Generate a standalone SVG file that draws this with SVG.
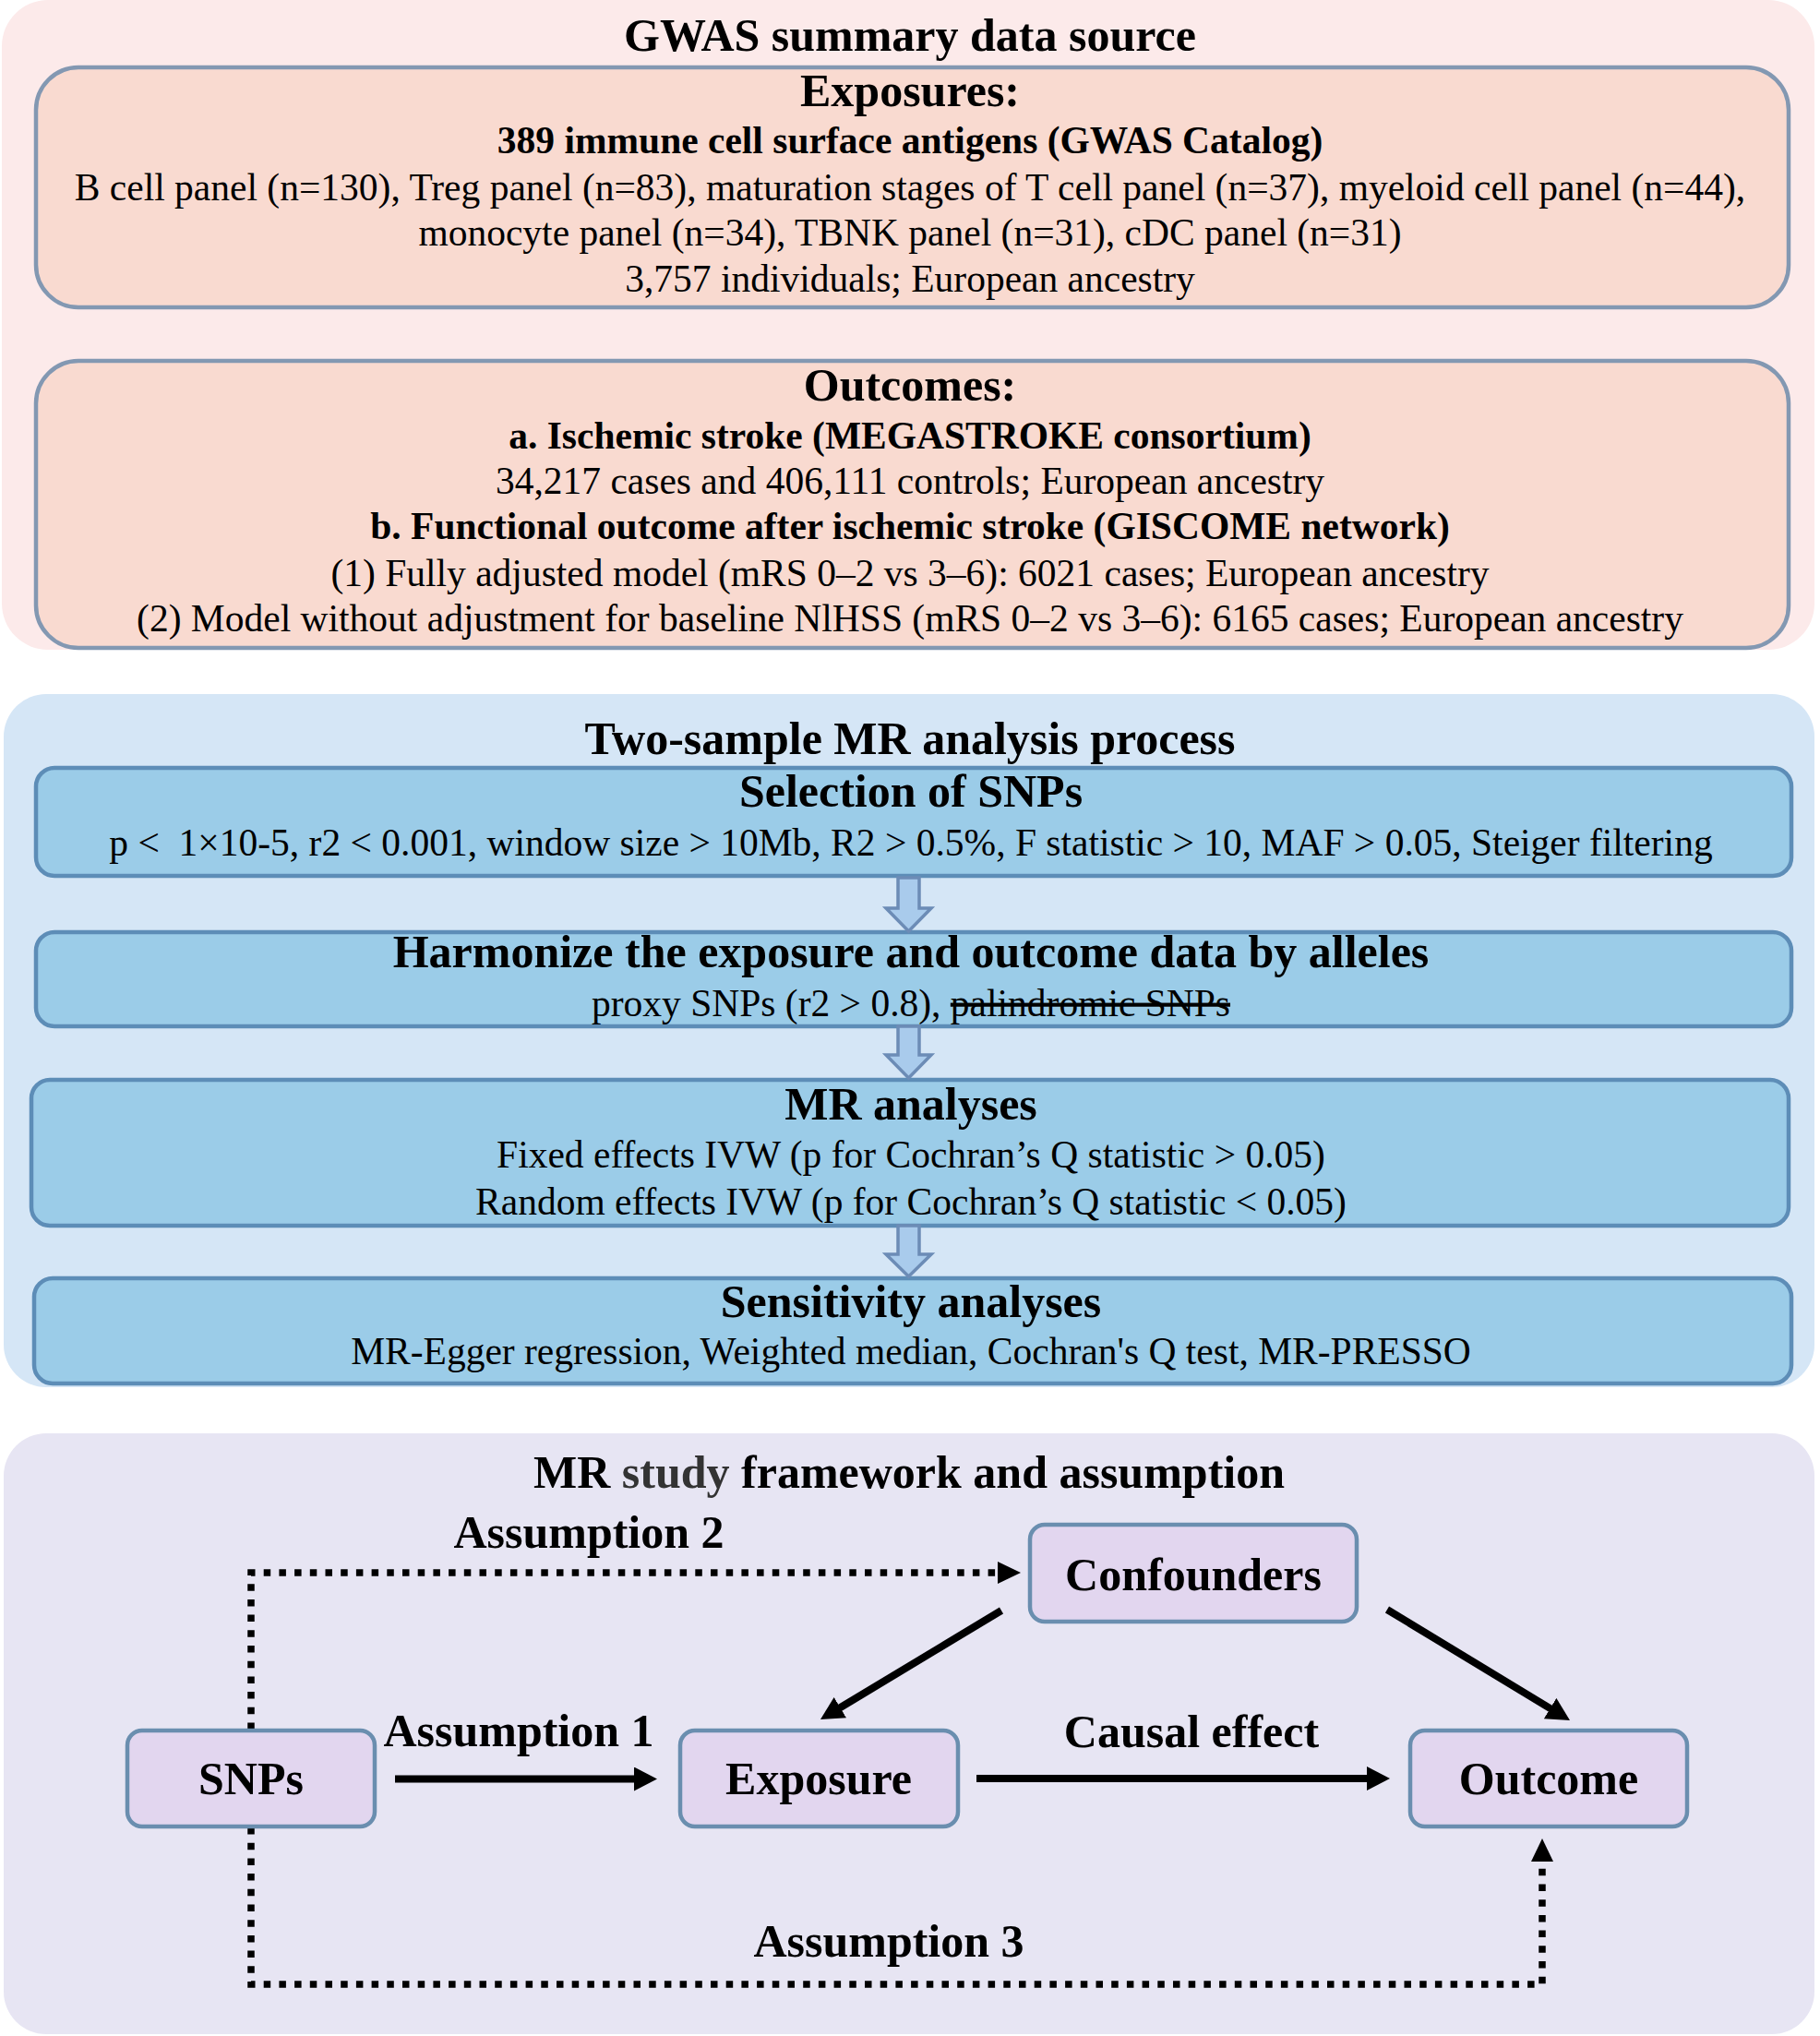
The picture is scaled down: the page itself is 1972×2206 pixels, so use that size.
<svg xmlns="http://www.w3.org/2000/svg" width="1972" height="2206" viewBox="0 0 1972 2206">
<defs>
<style>
text{font-family:"Liberation Serif","Times New Roman",serif;fill:#000;text-anchor:middle}
.h{font-size:50px;font-weight:bold}
.b{font-size:41.5px;font-weight:bold}
.t{font-size:41.5px}
.sec1{fill:#FCEAEA}
.sec2{fill:#D5E6F6}
.sec3{fill:#E7E5F3}
.pbox{fill:#F9DAD0;stroke:#8398B2;stroke-width:4.5}
.bbox{fill:#9BCCE8;stroke:#5D8DB7;stroke-width:4.5}
.barrow{fill:#A9CBEC;stroke:#6C8CB6;stroke-width:3.5}
.node{fill:#E2D6EF;stroke:#6A8EAF;stroke-width:4.5}
.solid{fill:none;stroke:#000;stroke-width:8}
.dot{fill:none;stroke:#000;stroke-width:7.5;stroke-dasharray:7.5 9.2}
</style>
<marker id="ah" viewBox="0 0 25 26" refX="3" refY="13" markerWidth="25" markerHeight="26" markerUnits="userSpaceOnUse" orient="auto">
<path d="M0,0 L25,13 L0,26 z" fill="#000"/>
</marker>
<marker id="ahd" viewBox="0 0 25 24" refX="0" refY="12" markerWidth="25" markerHeight="24" markerUnits="userSpaceOnUse" orient="auto">
<path d="M0,0 L25,12 L0,24 z" fill="#000"/>
</marker>
</defs>

<g id="section-gwas">
<rect class="sec1" x="2" y="0" width="1964" height="704" rx="50"/>
<text class="h" x="986" y="55">GWAS summary data source</text>
</g>
<g id="node-exposures">
<rect class="pbox" x="39" y="73" width="1899" height="260" rx="46"/>
<text class="h" x="986" y="115">Exposures:</text>
<text class="b" x="986" y="166">389 immune cell surface antigens (GWAS Catalog)</text>
<text class="t" x="986" y="217">B cell panel (n=130), Treg panel (n=83), maturation stages of T cell panel (n=37), myeloid cell panel (n=44),</text>
<text class="t" x="986" y="266">monocyte panel (n=34), TBNK panel (n=31), cDC panel (n=31)</text>
<text class="t" x="986" y="316">3,757 individuals; European ancestry</text>
</g>
<g id="node-outcomes">
<rect class="pbox" x="39" y="391" width="1899" height="311" rx="46"/>
<text class="h" x="986" y="434">Outcomes:</text>
<text class="b" x="986" y="486">a. Ischemic stroke (MEGASTROKE consortium)</text>
<text class="t" x="986" y="535">34,217 cases and 406,111 controls; European ancestry</text>
<text class="b" x="986" y="584">b. Functional outcome after ischemic stroke (GISCOME network)</text>
<text class="t" x="986" y="635">(1) Fully adjusted model (mRS 0–2 vs 3–6): 6021 cases; European ancestry</text>
<text class="t" x="986" y="684">(2) Model without adjustment for baseline NlHSS (mRS 0–2 vs 3–6): 6165 cases; European ancestry</text>
</g>

<g id="section-mr-process">
<rect class="sec2" x="4" y="752" width="1962" height="751" rx="46"/>
<text class="h" x="986" y="817">Two-sample MR analysis process</text>
</g>
<g id="node-selection">
<rect class="bbox" x="39" y="832" width="1902" height="117" rx="20"/>
<text class="h" x="987" y="874">Selection of SNPs</text>
<text class="t" x="987" y="927" style="white-space:pre">p &lt;  1×10-5, r2 &lt; 0.001, window size &gt; 10Mb, R2 &gt; 0.5%, F statistic &gt; 10, MAF &gt; 0.05, Steiger filtering</text>
</g>
<g id="node-harmonize">
<rect class="bbox" x="39" y="1010" width="1902" height="102" rx="20"/>
<text class="h" x="987" y="1048">Harmonize the exposure and outcome data by alleles</text>
<text class="t" x="987" y="1101">proxy SNPs (r2 &gt; 0.8), <tspan text-decoration="line-through">palindromic SNPs</tspan></text>
</g>
<g id="node-mr-analyses">
<rect class="bbox" x="34" y="1170" width="1904" height="158" rx="20"/>
<text class="h" x="987" y="1213">MR analyses</text>
<text class="t" x="987" y="1265">Fixed effects IVW (p for Cochran’s Q statistic &gt; 0.05)</text>
<text class="t" x="987" y="1316">Random effects IVW (p for Cochran’s Q statistic &lt; 0.05)</text>
</g>
<g id="node-sensitivity">
<rect class="bbox" x="37" y="1385" width="1904" height="114" rx="20"/>
<text class="h" x="987" y="1427">Sensitivity analyses</text>
<text class="t" x="987" y="1478">MR-Egger regression, Weighted median, Cochran's Q test, MR-PRESSO</text>
</g>
<g id="process-arrows">
<polygon class="barrow" points="973,951 996,951 996,984 1009,984 984.5,1009 960,984 973,984"/>
<polygon class="barrow" points="973,1112 996,1112 996,1143 1009,1143 984.5,1168 960,1143 973,1143"/>
<polygon class="barrow" points="973,1328 996,1328 996,1359 1009,1359 984.5,1383 960,1359 973,1359"/>
</g>

<g id="section-framework">
<rect class="sec3" x="4" y="1553" width="1962" height="651" rx="46"/>
<text class="h" x="985" y="1612">MR <tspan fill="#333">study</tspan> framework and assumption</text>
</g>

<g id="connectors">
<path class="dot" d="M272,1874 V1704 H1081" marker-end="url(#ahd)"/>
<path class="dot" d="M272,1980 V2150 H1671 V2017" marker-end="url(#ahd)"/>
<line class="solid" x1="428" y1="1927.5" x2="690" y2="1927.5" marker-end="url(#ah)"/>
<line class="solid" x1="1058" y1="1927" x2="1484" y2="1927" marker-end="url(#ah)"/>
<line class="solid" x1="1085" y1="1745" x2="907.8" y2="1851.7" marker-end="url(#ah)"/>
<line class="solid" x1="1503" y1="1744" x2="1682.2" y2="1852.6" marker-end="url(#ah)"/>
<text class="h" x="638" y="1677">Assumption 2</text>
<text class="h" x="562" y="1892">Assumption 1</text>
<text class="h" x="1291" y="1893">Causal effect</text>
<text class="h" x="963" y="2120">Assumption 3</text>
</g>

<g id="node-confounders">
<rect class="node" x="1116" y="1652" width="354" height="105" rx="16"/>
<text class="h" x="1293" y="1723">Confounders</text>
</g>
<g id="node-snps">
<rect class="node" x="138" y="1875" width="268" height="104" rx="16"/>
<text class="h" x="272" y="1944">SNPs</text>
</g>
<g id="node-exposure">
<rect class="node" x="737" y="1875" width="301" height="104" rx="16"/>
<text class="h" x="887" y="1944">Exposure</text>
</g>
<g id="node-outcome">
<rect class="node" x="1528" y="1875" width="300" height="104" rx="16"/>
<text class="h" x="1678" y="1944">Outcome</text>
</g>
</svg>
